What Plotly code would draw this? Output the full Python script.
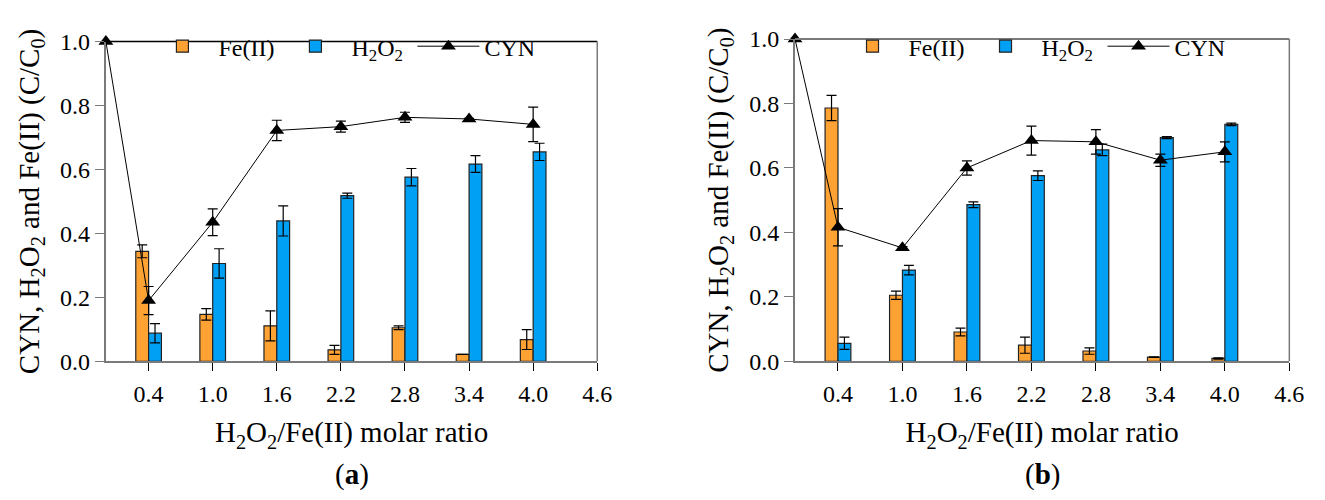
import plotly.graph_objects as go

# ---- data ----
RATIOS = [0.4, 1.0, 1.6, 2.2, 2.8, 3.4, 4.0]
CYN_X = [0.0, 0.4, 1.0, 1.6, 2.2, 2.8, 3.4, 4.0]
X_TICKS = [0.4, 1.0, 1.6, 2.2, 2.8, 3.4, 4.0, 4.6]
X_TICK_TEXT = ["0.4", "1.0", "1.6", "2.2", "2.8", "3.4", "4.0", "4.6"]
Y_TICKS = [0.0, 0.2, 0.4, 0.6, 0.8, 1.0]

# panel (a)
FE_A = [0.344, 0.147, 0.111, 0.036, 0.105, 0.022, 0.068]
FE_A_ERR = [0.020, 0.018, 0.047, 0.014, 0.006, 0.0, 0.031]
H2O2_A = [0.088, 0.306, 0.439, 0.518, 0.576, 0.617, 0.655]
H2O2_A_ERR = [0.030, 0.046, 0.047, 0.008, 0.027, 0.026, 0.027]
CYN_A = [1.0, 0.190, 0.435, 0.722, 0.734, 0.763, 0.758, 0.741]
CYN_A_ERR = [0.0, 0.044, 0.042, 0.032, 0.017, 0.016, 0.002, 0.054]

# panel (b)
FE_B = [0.786, 0.205, 0.091, 0.050, 0.032, 0.013, 0.009]
FE_B_ERR = [0.039, 0.013, 0.012, 0.025, 0.010, 0.001, 0.002]
H2O2_B = [0.056, 0.283, 0.486, 0.576, 0.656, 0.694, 0.735]
H2O2_B_ERR = [0.019, 0.015, 0.009, 0.015, 0.018, 0.003, 0.004]
CYN_B = [1.0, 0.416, 0.352, 0.600, 0.685, 0.681, 0.624, 0.650]
CYN_B_ERR = [0.0, 0.058, 0.004, 0.022, 0.045, 0.038, 0.019, 0.031]

NAMES = ["Fe(II)", "H<sub>2</sub>O<sub>2</sub>", "CYN"]

ORANGE = "#FFA234"
BLUE = "#00A0F5"
FONT = "Liberation Serif"
W, H = 1325, 500

fig = go.Figure()


def add_panel(fe, fe_err, h2, h2_err, cyn, cyn_err, xa, ya, leg):
    eb = dict(type="data", color="black", thickness=1.2, width=5)
    fig.add_trace(go.Bar(
        x=RATIOS, y=fe, width=0.12, offset=-0.12, name=NAMES[0],
        marker=dict(color=ORANGE, line=dict(color="#222222", width=1.2)),
        error_y=dict(array=fe_err, **eb), xaxis=xa, yaxis=ya, legend=leg))
    fig.add_trace(go.Bar(
        x=RATIOS, y=h2, width=0.12, offset=0.0, name=NAMES[1],
        marker=dict(color=BLUE, line=dict(color="#222222", width=1.2)),
        error_y=dict(array=h2_err, **eb), xaxis=xa, yaxis=ya, legend=leg))
    fig.add_trace(go.Scatter(
        x=CYN_X, y=cyn, mode="lines+markers", name=NAMES[2],
        line=dict(color="black", width=1),
        marker=dict(symbol="triangle-up", size=13, color="black"),
        error_y=dict(array=cyn_err, **eb), cliponaxis=False,
        xaxis=xa, yaxis=ya, legend=leg))


add_panel(FE_A, FE_A_ERR, H2O2_A, H2O2_A_ERR, CYN_A, CYN_A_ERR, "x", "y", "legend")
add_panel(FE_B, FE_B_ERR, H2O2_B, H2O2_B_ERR, CYN_B, CYN_B_ERR, "x2", "y2", "legend2")

AX_GRAY = "#7a7a7a"
xcommon = dict(range=[0, 4.6], tickvals=X_TICKS, ticktext=X_TICK_TEXT,
               showline=True, linecolor=AX_GRAY, linewidth=2, ticks="outside",
               ticklen=8, tickcolor="black", tickwidth=1, showgrid=False, zeroline=False,
               tickfont=dict(family=FONT, size=24, color="black"),
               ticklabelstandoff=2,
               title=dict(text="H<sub>2</sub>O<sub>2</sub>/Fe(II) molar ratio",
                          font=dict(family=FONT, size=29, color="black"), standoff=16))
ycommon = dict(range=[0, 1.0], tickvals=Y_TICKS, tickformat=".1f",
               showline=True, linecolor=AX_GRAY, linewidth=2, ticks="outside",
               ticklen=9, tickcolor=AX_GRAY, tickwidth=1, showgrid=False, zeroline=False,
               tickfont=dict(family=FONT, size=24, color="black"),
               title=dict(text="CYN, H<sub>2</sub>O<sub>2</sub> and Fe(II) (C/C<sub>0</sub>)",
                          font=dict(family=FONT, size=29, color="black"), standoff=12))

xa_dom = [99 / W, 596 / W]
xb_dom = [796 / W, 1296 / W]
ya_dom = [1 - 359 / H, 1 - 21.7 / H]
yb_dom = [1 - 359 / H, 1 - 19 / H]

legcommon = dict(orientation="h", font=dict(family=FONT, size=24, color="black"),
                 bgcolor="rgba(0,0,0,0)", itemwidth=62, entrywidth=56,
                 entrywidthmode="pixels",
                 xanchor="left", yanchor="middle", itemclick=False)

fig.update_layout(
    width=W, height=H, margin=dict(l=0, r=0, t=0, b=0),
    paper_bgcolor="white", plot_bgcolor="white",
    barmode="overlay",
    xaxis=dict(domain=xa_dom, anchor="y", **xcommon),
    yaxis=dict(domain=ya_dom, anchor="x", **ycommon),
    xaxis2=dict(domain=xb_dom, anchor="y2", **xcommon),
    yaxis2=dict(domain=yb_dom, anchor="x2", **ycommon),
    legend=dict(x=140 / W, y=1 - 27 / H, **legcommon),
    legend2=dict(x=838 / W, y=1 - 27 / H, **legcommon),
    annotations=[
        dict(text="(<b>a</b>)", x=347.5 / W, y=1 - 478 / H, xref="paper", yref="paper",
             xanchor="center", yanchor="middle", showarrow=False,
             font=dict(family=FONT, size=29, color="black")),
        dict(text="(<b>b</b>)", x=1046 / W, y=1 - 478 / H, xref="paper", yref="paper",
             xanchor="center", yanchor="middle", showarrow=False,
             font=dict(family=FONT, size=29, color="black")),
    ],
    shapes=[
        dict(type="line", xref="x domain", yref="y domain", x0=0, x1=1, y0=1, y1=1,
             line=dict(color="black", width=1.5)),
        dict(type="line", xref="x domain", yref="y domain", x0=1, x1=1, y0=0, y1=1,
             line=dict(color=AX_GRAY, width=1.5)),
        dict(type="line", xref="x2 domain", yref="y2 domain", x0=0, x1=1, y0=1, y1=1,
             line=dict(color=AX_GRAY, width=2)),
        dict(type="line", xref="x2 domain", yref="y2 domain", x0=1, x1=1, y0=0, y1=1,
             line=dict(color=AX_GRAY, width=1.5)),
    ],
)

fig.write_html("out.html")
